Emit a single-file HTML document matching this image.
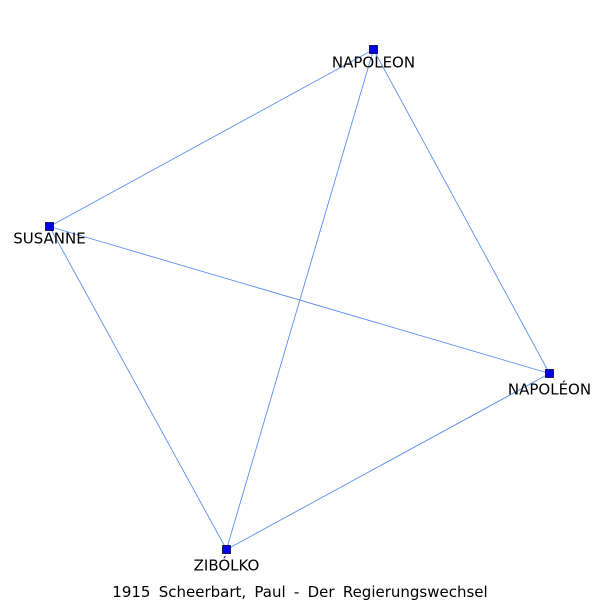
<!DOCTYPE html>
<html><head><meta charset="utf-8"><style>
html,body{margin:0;padding:0;background:#fff;}
svg text{font-family:"DejaVu Sans","Liberation Sans",sans-serif;font-size:15px;fill:#000;}
</style></head><body>
<svg width="600" height="600">
<g id="edges"></g><g id="nodes"></g>
<text x="300" y="597" text-anchor="middle" word-spacing="3.5">1915 Scheerbart, Paul - Der Regierungswechsel</text>
</svg>
<script>
const nodeNames = ["NAPOLEON","SUSANNE","NAPOLÉON","ZIBÓLKO"];
const nodeX = [373.5,49.5,549.5,226.5];
const nodeY = [49.5,226.5,373.5,549.5];
const edgeFrom = [0,0,0,1,1,2];
const edgeTo = [1,2,3,2,3,3];
const labelOffsetY = [18,17,21,21];
const NS="http://www.w3.org/2000/svg";
const eg=document.getElementById('edges'), ng=document.getElementById('nodes');
for(let i=0;i<edgeFrom.length;i++){
  const l=document.createElementNS(NS,'line');
  l.setAttribute('x1',nodeX[edgeFrom[i]]);l.setAttribute('y1',nodeY[edgeFrom[i]]);
  l.setAttribute('x2',nodeX[edgeTo[i]]);l.setAttribute('y2',nodeY[edgeTo[i]]);
  l.setAttribute('stroke','#5b8ff0');l.setAttribute('stroke-width','0.9');
  
  
  eg.appendChild(l);
}
for(let i=0;i<nodeNames.length;i++){
  const r=document.createElementNS(NS,'rect');
  r.setAttribute('x',nodeX[i]-4);r.setAttribute('y',nodeY[i]-4);
  r.setAttribute('width',8);r.setAttribute('height',8);
  r.setAttribute('fill','#0000ee');r.setAttribute('stroke','#000033');r.setAttribute('stroke-width','0.8');
  
  
  ng.appendChild(r);
  const t=document.createElementNS(NS,'text');
  t.setAttribute('x',nodeX[i]);t.setAttribute('y',nodeY[i]+labelOffsetY[i]);
  t.setAttribute('text-anchor','middle');
  t.textContent=nodeNames[i];
  
  
  ng.appendChild(t);
}
</script>
</body></html>
